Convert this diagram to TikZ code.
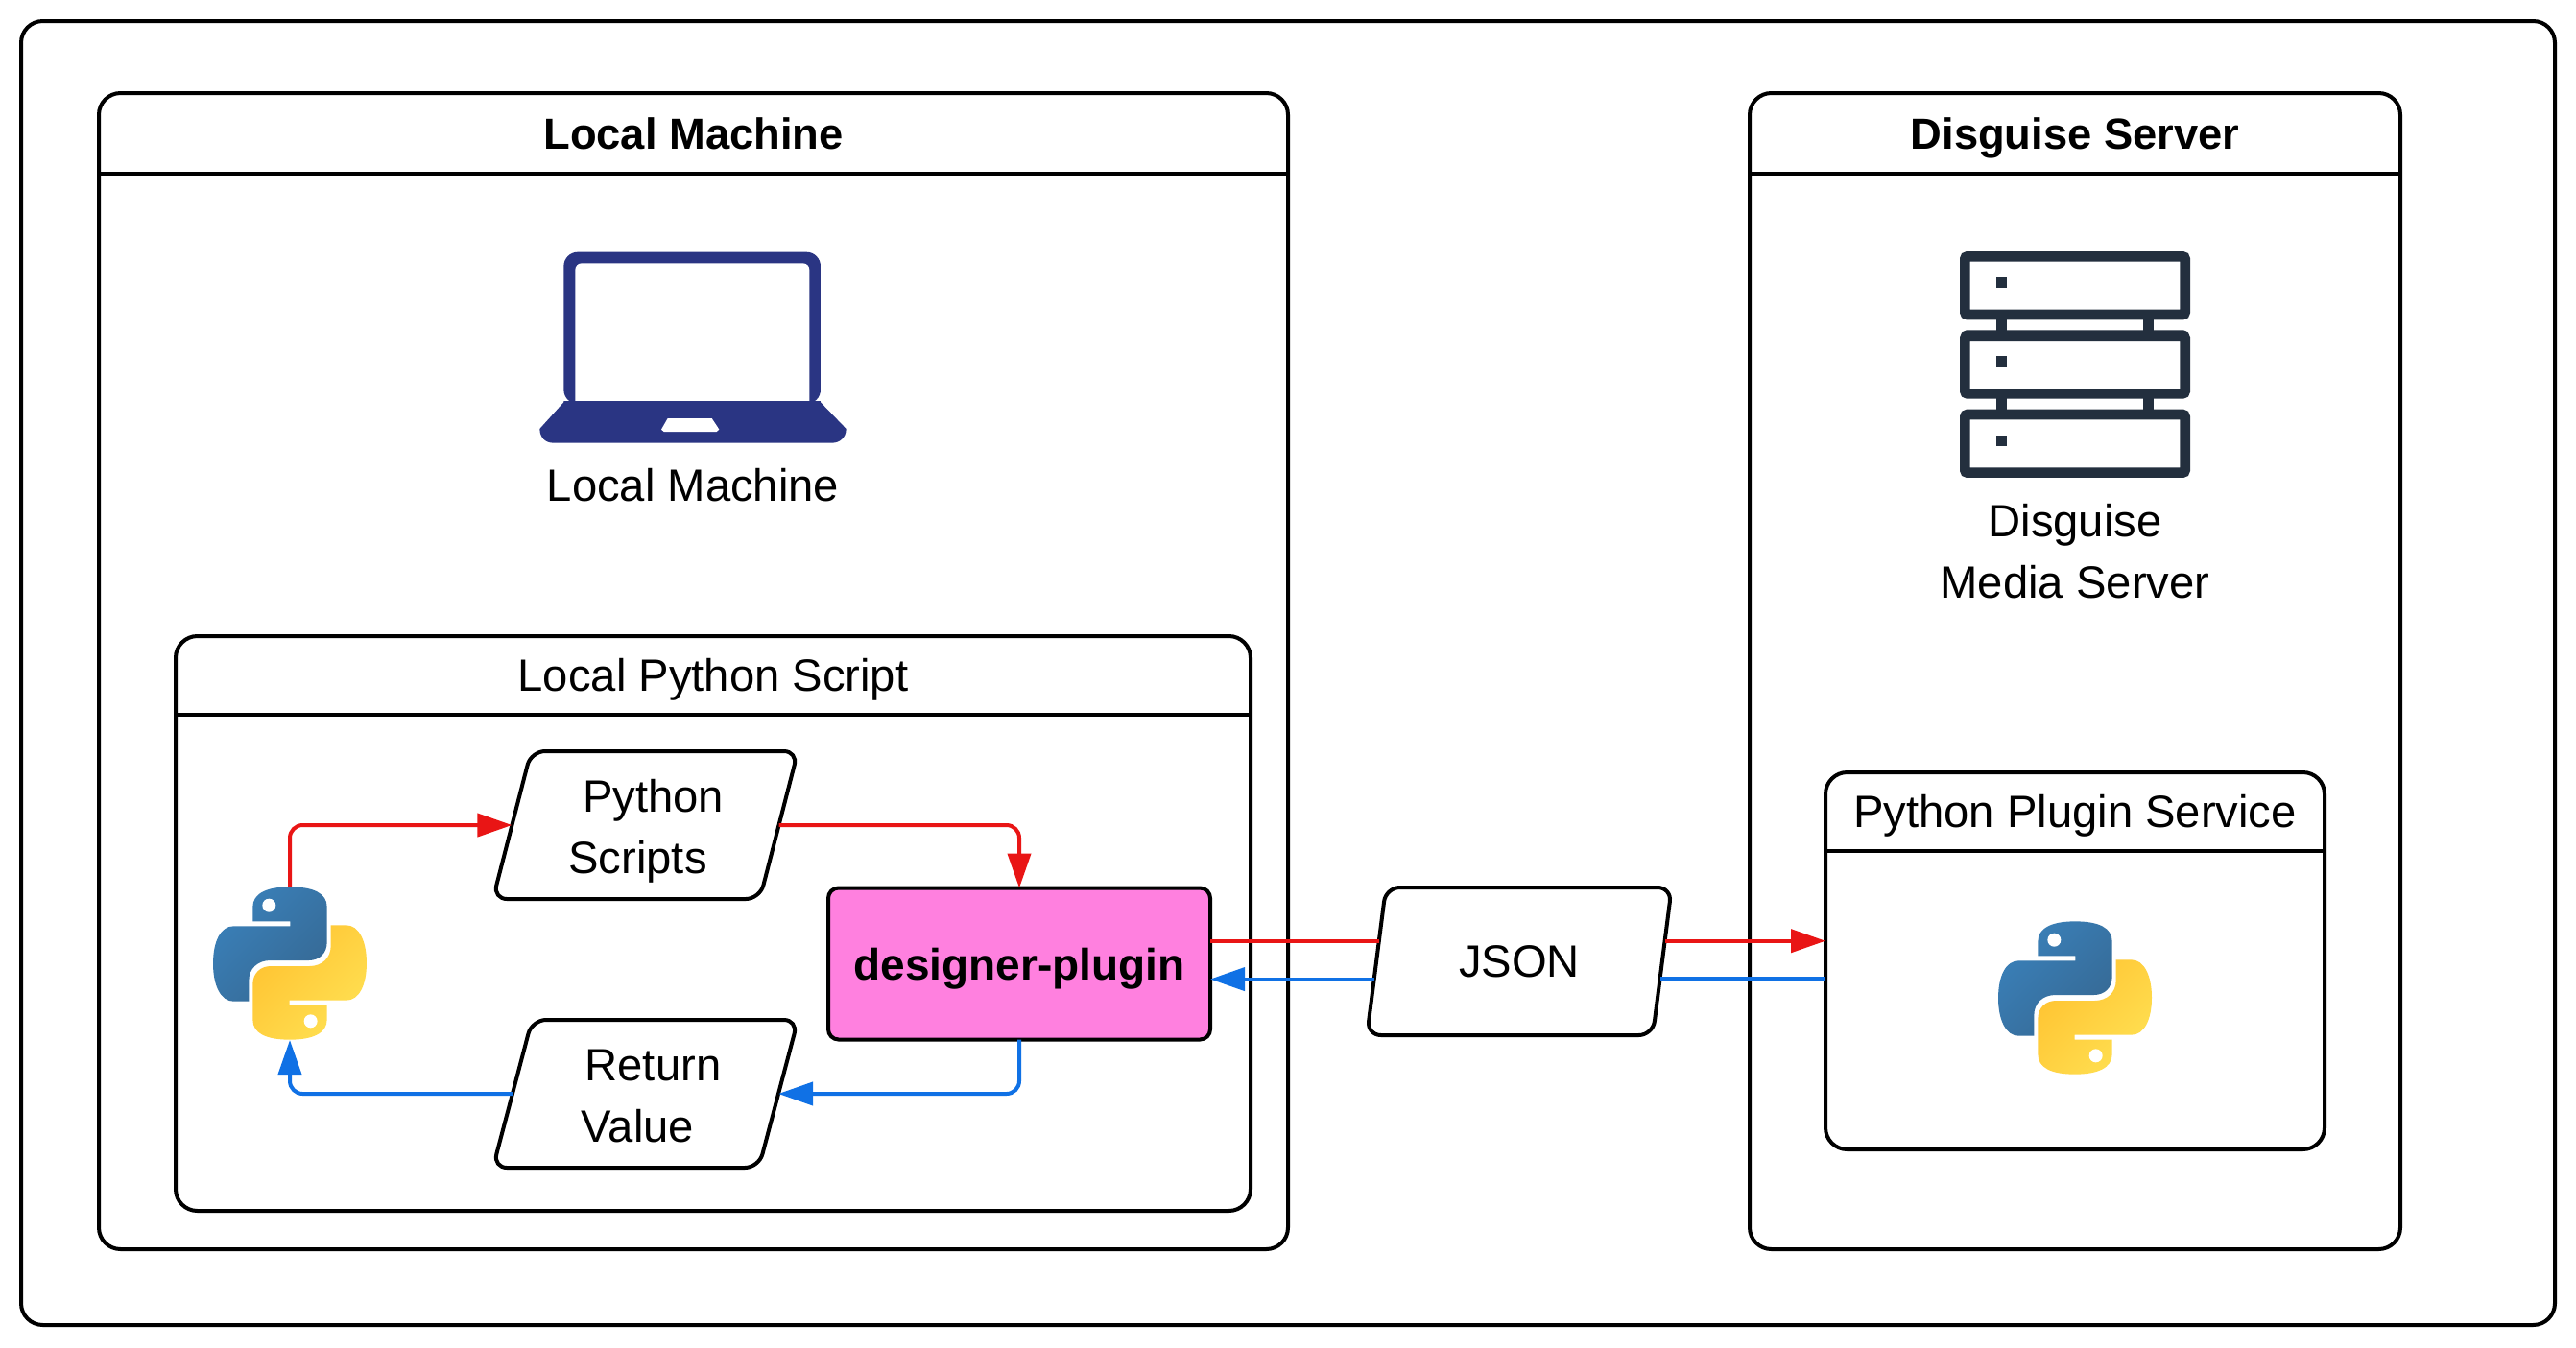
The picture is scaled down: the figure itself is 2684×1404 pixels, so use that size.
\documentclass[tikz,border=0pt]{standalone}
\usepackage{fontspec}
\setmainfont{Liberation Sans}
\usepackage{tikz}
\usetikzlibrary{arrows.meta,shapes.geometric}
\definecolor{sendred}{HTML}{E91515}
\definecolor{backblue}{HTML}{1071E5}
\definecolor{pluginpink}{HTML}{FF80DF}
\definecolor{laptopblue}{HTML}{2A3583}
\definecolor{servernavy}{HTML}{232F3E}
\definecolor{pyblueA}{HTML}{3A80B9}
\definecolor{pyblueB}{HTML}{366994}
\definecolor{pyyellowA}{HTML}{FFE052}
\definecolor{pyyellowB}{HTML}{FFC331}
\def\px{0.75pt}
\def\pyhalf{(276,42) .. controls (350,42) and (392,62) .. (392,105) -- (392,215)
  .. controls (392,250) and (368,272) .. (335,272) -- (215,272)
  .. controls (175,272) and (148,298) .. (148,335) -- (148,400) -- (100,400)
  .. controls (60,400) and (36,350) .. (36,282) .. controls (36,212) and (60,165) .. (100,165)
  -- (277,165) -- (277,150) -- (160,150) -- (160,105) .. controls (160,62) and (205,42) .. (276,42) -- cycle}
\tikzset{
  pylogo/.pic={
    \begin{scope}[scale=0.3333,shift={(-276,-281)}]
      \shade[top color=pyblueA,bottom color=pyblueB,shading angle=45] \pyhalf;
      \fill[white] (211,100) circle (21);
      \begin{scope}[shift={(552,562)},xscale=-1,yscale=-1]
        \shade[top color=pyyellowB,bottom color=pyyellowA,shading angle=45] \pyhalf;
      \end{scope}
      \fill[white] (341,462) circle (21);
    \end{scope}
  },
  laptop/.pic={
    \begin{scope}[scale=0.3333,shift={(-576,-363)}]
      \fill[laptopblue,rounded corners=11pt]
        (172,540) -- (172,65) -- (975,65) -- (975,540) -- cycle;
      \fill[white] (208,540) [rounded corners=5pt] -- (208,100) -- (940,100) [sharp corners] -- (940,540) -- cycle;
      \fill[laptopblue] (172,531) -- (975,531) -- (975,535) -- (1055,618)
        .. controls (1055,645) and (1035,662) .. (1010,662) -- (140,662)
        .. controls (115,662) and (97,645) .. (97,618) -- (172,535) -- cycle;
      \fill[white] (497,585) -- (635,585) -- (658,620) -- (650,627) -- (485,627) -- (477,620) -- cycle;
    \end{scope}
  },
  serverstack/.pic={
    \begin{scope}[scale=0.3333,shift={(-426,-420)}]
      \foreach \dy in {0,247,494} {
        \draw[servernavy,line width=8pt,rounded corners=2pt] (82,82+\dy) rectangle (770,264+\dy);
        \fill[servernavy] (180,147+\dy) rectangle (214,181+\dy);
      }
      \foreach \dy in {0,247} {
        \fill[servernavy] (180,270+\dy) rectangle (214,320+\dy);
        \fill[servernavy] (638,270+\dy) rectangle (672,320+\dy);
      }
    \end{scope}
  }
}
\begin{document}
\begin{tikzpicture}[
   x=0.75pt,y=-0.75pt,
   every node/.style={font=\fontsize{35.4}{48}\selectfont,outer sep=0pt,inner sep=0pt},
   frame/.style={draw,line width=3pt,rounded corners=17pt,fill=white},
   lanetitle/.style={anchor=north,minimum height=82*\px,text height=25pt,text depth=0pt},
   boldtitle/.style={lanetitle,minimum height=84*\px,font=\fontsize{34}{48}\selectfont\bfseries},
   slanted/.style={draw,line width=3pt,rounded corners=11pt,fill=white,trapezium,
     trapezium left angle=75,trapezium right angle=105,trapezium stretches=true,
     minimum width=318*\px,minimum height=154*\px,align=center},
   logobox/.style={minimum width=160*\px,minimum height=160*\px},
   plugin/.style={draw,line width=3pt,rounded corners=8pt,fill=pluginpink,
     minimum width=398*\px,minimum height=158*\px,text height=25pt,text depth=0pt,
     font=\fontsize{34.5}{48}\selectfont\bfseries},
   send/.style={-{Triangle[length=27pt,width=18pt]},draw=sendred,line width=3pt,rounded corners=10pt},
   sendplain/.style={draw=sendred,line width=3pt},
   back/.style={-{Triangle[length=27pt,width=18pt]},draw=backblue,line width=3pt,rounded corners=10pt},
   backplain/.style={draw=backblue,line width=3pt}]
\useasboundingbox (0,0) rectangle (2684,1404);
\node[frame,minimum width=2640*\px,minimum height=1359*\px] (outer) at (1342,701.5) {};
\node[frame,minimum width=1239*\px,minimum height=1205*\px] (localbox) at (722.5,699.5) {};
\node[frame,minimum width=678*\px,minimum height=1205*\px] (serverbox) at (2162,699.5) {};
\node[boldtitle] (localtitle) at (localbox.north) {Local Machine};
\node[boldtitle] (servertitle) at (serverbox.north) {Disguise Server};
\draw[line width=3pt] (localbox.west |- localtitle.south) to (localbox.east |- localtitle.south);
\draw[line width=3pt] (serverbox.west |- servertitle.south) to (serverbox.east |- servertitle.south);
\node[frame,minimum width=1120*\px,minimum height=599*\px] (scriptbox) at (743,962.5) {};
\node[lanetitle] (scripttitle) at (scriptbox.north) {Local Python Script};
\draw[line width=3pt] (scriptbox.west |- scripttitle.south) to (scriptbox.east |- scripttitle.south);
\node[frame,minimum width=520*\px,minimum height=393*\px] (servicebox) at (2162,1001.5) {};
\node[lanetitle] (servicetitle) at (servicebox.north) {Python Plugin Service};
\draw[line width=3pt] (servicebox.west |- servicetitle.south) to (servicebox.east |- servicetitle.south);
\pic at (722,362) {laptop};
\node (laptoptext) at (722,506) {Local Machine};
\pic at (2162,380) {serverstack};
\node[align=center] (servertext) at (2162,575) {Disguise\\Media Server};
\node[logobox] (pylocal) at (302,1004) {};
\pic at (pylocal) {pylogo};
\node[logobox] (pyservice) at (2162,1040) {};
\pic at (pyservice) {pylogo};
\node[slanted] (scripts) at (672.5,860) {\hspace*{12pt}\rule{0pt}{28pt}Python\\\smash{Scripts}\hspace*{12pt}};
\node[slanted] (retval) at (672.5,1140) {\hspace*{12pt}\rule{0pt}{28pt}Return\\\smash{Value}\hspace*{12pt}};
\node[slanted,text height=25pt,text depth=0pt] (json) at (1583,1002) {JSON};
\node[plugin] (designer) at (1062,1004.5) {designer-plugin};
\draw[send] (pylocal.north) |- (scripts.left side);
\draw[send] (scripts.right side) -| (designer.north);
\draw[back] (designer.south) |- (retval.right side);
\draw[back] (retval.left side) -| (pylocal.south);
\draw[sendplain] (json.172.5 -| designer.east) to (json.172.5);
\draw[back] (json.187.5) to (json.187.5 -| designer.east);
\draw[send] (json.8.5) to (json.8.5 -| servicebox.west);
\draw[backplain] (json.-7.5 -| servicebox.west) to (json.-7.5);
\end{tikzpicture}
\end{document}
